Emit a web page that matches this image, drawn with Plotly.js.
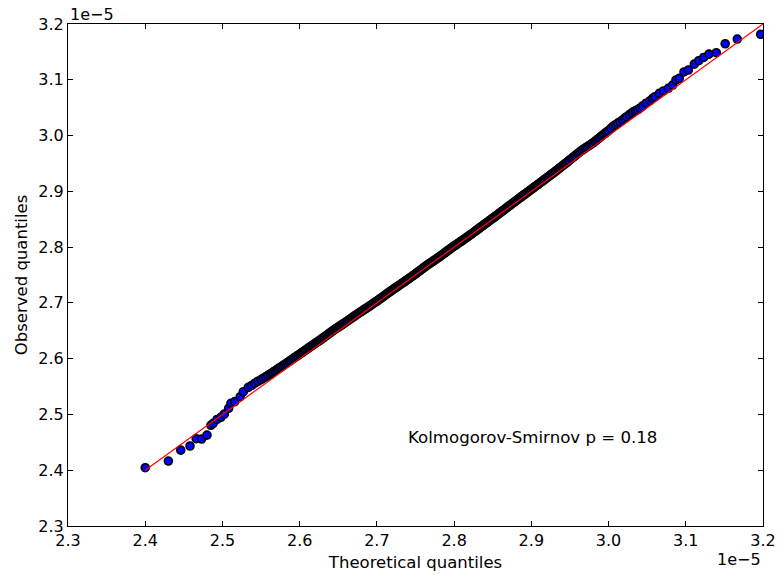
<!DOCTYPE html>
<html>
<head>
<meta charset="utf-8">
<script src="https://cdn.plot.ly/plotly-3.0.1.min.js"></script>
<style>
  html, body { margin: 0; padding: 0; background: #ffffff; }
  #chart { width: 778px; height: 575px; }
</style>
</head>
<body>
<div id="chart"></div>
<script>
// Q-Q plot of a sample against its fitted normal distribution.
// All quantile values are expressed in units of 1e-5.

// Theoretical (normal) quantiles
const theoretical = [
  2.400, 2.430, 2.446, 2.458, 2.466, 2.473, 2.480, 2.485, 2.488, 2.493,
  2.498, 2.5025, 2.508, 2.511, 2.516, 2.523, 2.527, 2.5335, 2.538, 2.542,
  2.546, 2.550, 2.553, 2.556, 2.559,
  2.562, 2.564, 2.566, 2.568, 2.570, 2.572, 2.574, 2.576, 2.578, 2.580,
  2.582, 2.584, 2.586, 2.588, 2.590, 2.592, 2.594, 2.596, 2.598, 2.600,
  2.6015, 2.6030, 2.6045, 2.6060, 2.6075, 2.6090, 2.6105, 2.6120, 2.6135, 2.6150,
  2.6165, 2.6180, 2.6195, 2.6210, 2.6225, 2.6240, 2.6255, 2.6270, 2.6285, 2.6300,
  2.6315, 2.6330, 2.6345, 2.6360, 2.6375, 2.6390, 2.6405, 2.6420, 2.6435, 2.6450,
  2.6465, 2.6480, 2.6495, 2.6510, 2.6525, 2.6540, 2.6555, 2.6570, 2.6585, 2.6600,
  2.6615, 2.6630, 2.6645, 2.6660, 2.6675, 2.6690, 2.6705, 2.6720, 2.6735, 2.6750,
  2.6765, 2.6780, 2.6795, 2.6810, 2.6825, 2.6840, 2.6855, 2.6870, 2.6885, 2.6900,
  2.6915, 2.6930, 2.6945, 2.6960, 2.6975, 2.6990, 2.7005, 2.7020, 2.7035, 2.7050,
  2.7065, 2.7080, 2.7095, 2.7110, 2.7125, 2.7140, 2.7155, 2.7170, 2.7185, 2.7200,
  2.7215, 2.7230, 2.7245, 2.7260, 2.7275, 2.7290, 2.7305, 2.7320, 2.7335, 2.7350,
  2.7365, 2.7380, 2.7395, 2.7410, 2.7425, 2.7440, 2.7455, 2.7470, 2.7485, 2.7500,
  2.7515, 2.7530, 2.7545, 2.7560, 2.7575, 2.7590, 2.7605, 2.7620, 2.7635, 2.7650,
  2.7665, 2.7680, 2.7695, 2.7710, 2.7725, 2.7740, 2.7755, 2.7770, 2.7785, 2.7800,
  2.7815, 2.7830, 2.7845, 2.7860, 2.7875, 2.7890, 2.7905, 2.7920, 2.7935, 2.7950,
  2.7965, 2.7980, 2.7995, 2.8010, 2.8025, 2.8040, 2.8055, 2.8070, 2.8085, 2.8100,
  2.8115, 2.8130, 2.8145, 2.8160, 2.8175, 2.8190, 2.8205, 2.8220, 2.8235, 2.8250,
  2.8265, 2.8280, 2.8295, 2.8310, 2.8325, 2.8340, 2.8355, 2.8370, 2.8385, 2.8400,
  2.8415, 2.8430, 2.8445, 2.8460, 2.8475, 2.8490, 2.8505, 2.8520, 2.8535, 2.8550,
  2.8565, 2.8580, 2.8595, 2.8610, 2.8625, 2.8640, 2.8655, 2.8670, 2.8685, 2.8700,
  2.8715, 2.8730, 2.8745, 2.8760, 2.8775, 2.8790, 2.8805, 2.8820, 2.8835, 2.8850,
  2.8865, 2.8880, 2.8895, 2.8910, 2.8925, 2.8940, 2.8955, 2.8970, 2.8985, 2.9000,
  2.9015, 2.9030, 2.9045, 2.9060, 2.9075, 2.9090, 2.9105, 2.9120, 2.9135, 2.9150,
  2.9165, 2.9180, 2.9195, 2.9210, 2.9225, 2.9240, 2.9255, 2.9270, 2.9285, 2.9300,
  2.9315, 2.9330, 2.9345, 2.9360, 2.9375, 2.9390, 2.9405, 2.9420, 2.9435, 2.9450,
  2.9465, 2.9480, 2.9495,
  2.952, 2.954, 2.956, 2.958, 2.960, 2.962, 2.964, 2.966, 2.968, 2.970,
  2.972, 2.974, 2.976, 2.978, 2.980, 2.982, 2.984, 2.986, 2.988, 2.990,
  2.992, 2.994, 2.996, 2.998, 3.000,
  3.003, 3.006, 3.009, 3.012, 3.015, 3.018, 3.021, 3.0235, 3.027, 3.030,
  3.032, 3.035, 3.038, 3.0407, 3.044, 3.0485, 3.0537, 3.057, 3.060, 3.0657,
  3.071, 3.0774, 3.083, 3.0873, 3.0916, 3.0977, 3.1033, 3.111, 3.1167, 3.1232,
  3.130, 3.1395, 3.151, 3.1667, 3.197
];

// Observed (sorted sample) quantiles
const observed = [
  2.4045, 2.4165, 2.4360, 2.4434, 2.4565, 2.4560, 2.4630, 2.4805, 2.4840, 2.4910,
  2.4949, 2.5008, 2.5110, 2.5200, 2.5230, 2.5318, 2.5407, 2.5486, 2.5520, 2.5560,
  2.5595, 2.5625, 2.5650, 2.5675, 2.5700,
  2.5725, 2.5743, 2.5764, 2.5780, 2.5798, 2.5819, 2.5836, 2.5854, 2.5873, 2.5892,
  2.5910, 2.5931, 2.5948, 2.5967, 2.5986, 2.6007, 2.6024, 2.6043, 2.6061, 2.6080,
  2.6094, 2.6109, 2.6123, 2.6138, 2.6152, 2.6167, 2.6181, 2.6196, 2.6210, 2.6225,
  2.6240, 2.6254, 2.6268, 2.6283, 2.6297, 2.6311, 2.6325, 2.6339, 2.6354, 2.6368,
  2.6383, 2.6398, 2.6414, 2.6429, 2.6445, 2.6460, 2.6476, 2.6491, 2.6506, 2.6521,
  2.6535, 2.6549, 2.6562, 2.6576, 2.6590, 2.6603, 2.6617, 2.6631, 2.6644, 2.6658,
  2.6672, 2.6687, 2.6701, 2.6716, 2.6730, 2.6745, 2.6759, 2.6773, 2.6788, 2.6802,
  2.6815, 2.6829, 2.6842, 2.6856, 2.6870, 2.6883, 2.6897, 2.6911, 2.6924, 2.6938,
  2.6952, 2.6967, 2.6981, 2.6995, 2.7010, 2.7024, 2.7038, 2.7052, 2.7067, 2.7081,
  2.7096, 2.7111, 2.7127, 2.7142, 2.7158, 2.7173, 2.7188, 2.7202, 2.7217, 2.7232,
  2.7246, 2.7260, 2.7274, 2.7288, 2.7303, 2.7317, 2.7331, 2.7345, 2.7360, 2.7374,
  2.7388, 2.7403, 2.7417, 2.7432, 2.7446, 2.7461, 2.7476, 2.7490, 2.7505, 2.7520,
  2.7536, 2.7551, 2.7567, 2.7582, 2.7598, 2.7614, 2.7629, 2.7645, 2.7660, 2.7676,
  2.7690, 2.7704, 2.7718, 2.7732, 2.7746, 2.7760, 2.7774, 2.7788, 2.7802, 2.7816,
  2.7831, 2.7846, 2.7862, 2.7877, 2.7893, 2.7908, 2.7924, 2.7939, 2.7955, 2.7970,
  2.7985, 2.7999, 2.8013, 2.8028, 2.8042, 2.8056, 2.8070, 2.8085, 2.8099, 2.8113,
  2.8127, 2.8142, 2.8157, 2.8171, 2.8186, 2.8201, 2.8216, 2.8230, 2.8245, 2.8260,
  2.8276, 2.8291, 2.8307, 2.8322, 2.8338, 2.8353, 2.8369, 2.8384, 2.8400, 2.8415,
  2.8430, 2.8445, 2.8461, 2.8476, 2.8491, 2.8507, 2.8522, 2.8537, 2.8553, 2.8568,
  2.8584, 2.8600, 2.8615, 2.8631, 2.8647, 2.8662, 2.8678, 2.8694, 2.8709, 2.8725,
  2.8741, 2.8756, 2.8772, 2.8787, 2.8803, 2.8819, 2.8834, 2.8850, 2.8865, 2.8881,
  2.8896, 2.8912, 2.8927, 2.8943, 2.8958, 2.8973, 2.8989, 2.9004, 2.9020, 2.9035,
  2.9049, 2.9065, 2.9080, 2.9096, 2.9112, 2.9127, 2.9143, 2.9159, 2.9174, 2.9190,
  2.9206, 2.9221, 2.9237, 2.9252, 2.9268, 2.9283, 2.9299, 2.9315, 2.9330, 2.9346,
  2.9362, 2.9378, 2.9395, 2.9411, 2.9427, 2.9443, 2.9459, 2.9475, 2.9492, 2.9508,
  2.9525, 2.9542, 2.9559,
  2.9586, 2.9608, 2.9631, 2.9654, 2.9677, 2.9699, 2.9720, 2.9740, 2.9759, 2.9778,
  2.9796, 2.9814, 2.9832, 2.9851, 2.9870, 2.9891, 2.9913, 2.9935, 2.9957, 2.9979,
  3.0002, 3.0024, 3.0046, 3.0068, 3.0090,
  3.0128, 3.0170, 3.0195, 3.0222, 3.0248, 3.0280, 3.0312, 3.0338, 3.0375, 3.0405,
  3.0428, 3.0448, 3.0466, 3.0490, 3.0530, 3.0580, 3.0625, 3.0665, 3.0697, 3.0757,
  3.0800, 3.0847, 3.0906, 3.0996, 3.1026, 3.1140, 3.1175, 3.1280, 3.1342, 3.1400,
  3.1460, 3.1485, 3.1646, 3.1730, 3.1815
];

// End points of the y = x reference line
const refLine = [2.4, 3.2];

// Tick positions and labels shared by both axes
const tickValues = [2.3, 2.4, 2.5, 2.6, 2.7, 2.8, 2.9, 3.0, 3.1, 3.2];
const tickLabels = ['2.3', '2.4', '2.5', '2.6', '2.7', '2.8', '2.9', '3.0', '3.1', '3.2'];

const ksText = 'Kolmogorov-Smirnov p = 0.18';
const scaleText = '1e\u22125';

const FONT = 'DejaVu Sans, Bitstream Vera Sans, sans-serif';

const traces = [
  {
    type: 'scatter',
    mode: 'markers',
    x: theoretical,
    y: observed,
    marker: {
      color: '#0000ff',
      size: 8,
      line: { color: '#000000', width: 1.6 }
    },
    hoverinfo: 'x+y'
  },
  {
    type: 'scatter',
    mode: 'lines',
    x: refLine,
    y: refLine,
    line: { color: '#ff0000', width: 1.2 },
    hoverinfo: 'skip'
  }
];

const axisBase = {
  range: [2.3, 3.2],
  tickmode: 'array',
  tickvals: tickValues,
  ticktext: tickLabels,
  ticks: 'inside',
  ticklen: 5,
  tickwidth: 1,
  tickcolor: '#000000',
  showline: true,
  linecolor: '#000000',
  linewidth: 1,
  mirror: 'ticks',
  showgrid: false,
  zeroline: false,
  tickfont: { family: FONT, size: 16, color: '#000000' }
};

const layout = {
  width: 778,
  height: 575,
  margin: { l: 68, r: 15, t: 24, b: 49 },
  paper_bgcolor: '#ffffff',
  plot_bgcolor: '#ffffff',
  showlegend: false,
  font: { family: FONT, size: 16, color: '#000000' },
  xaxis: Object.assign({}, axisBase, {
    title: { text: 'Theoretical quantiles', font: { family: FONT, size: 16.5 }, standoff: 7 }
  }),
  yaxis: Object.assign({}, axisBase, {
    title: { text: 'Observed quantiles', font: { family: FONT, size: 16.5 }, standoff: 6 }
  }),
  annotations: [
    {
      text: ksText,
      xref: 'x', yref: 'y',
      x: 2.902, y: 2.458,
      xanchor: 'center', yanchor: 'middle',
      showarrow: false,
      font: { family: FONT, size: 16.6, color: '#000000' }
    },
    {
      text: scaleText,
      xref: 'paper', yref: 'paper',
      x: 0, y: 1,
      xanchor: 'left', yanchor: 'bottom',
      yshift: -2,
      showarrow: false,
      font: { family: FONT, size: 16, color: '#000000' }
    },
    {
      text: scaleText,
      xref: 'paper', yref: 'paper',
      x: 1, y: 0,
      xanchor: 'right', yanchor: 'top',
      yshift: -22,
      showarrow: false,
      font: { family: FONT, size: 16, color: '#000000' }
    }
  ]
};

Plotly.newPlot('chart', traces, layout, { displayModeBar: false, staticPlot: true });
</script>
</body>
</html>
